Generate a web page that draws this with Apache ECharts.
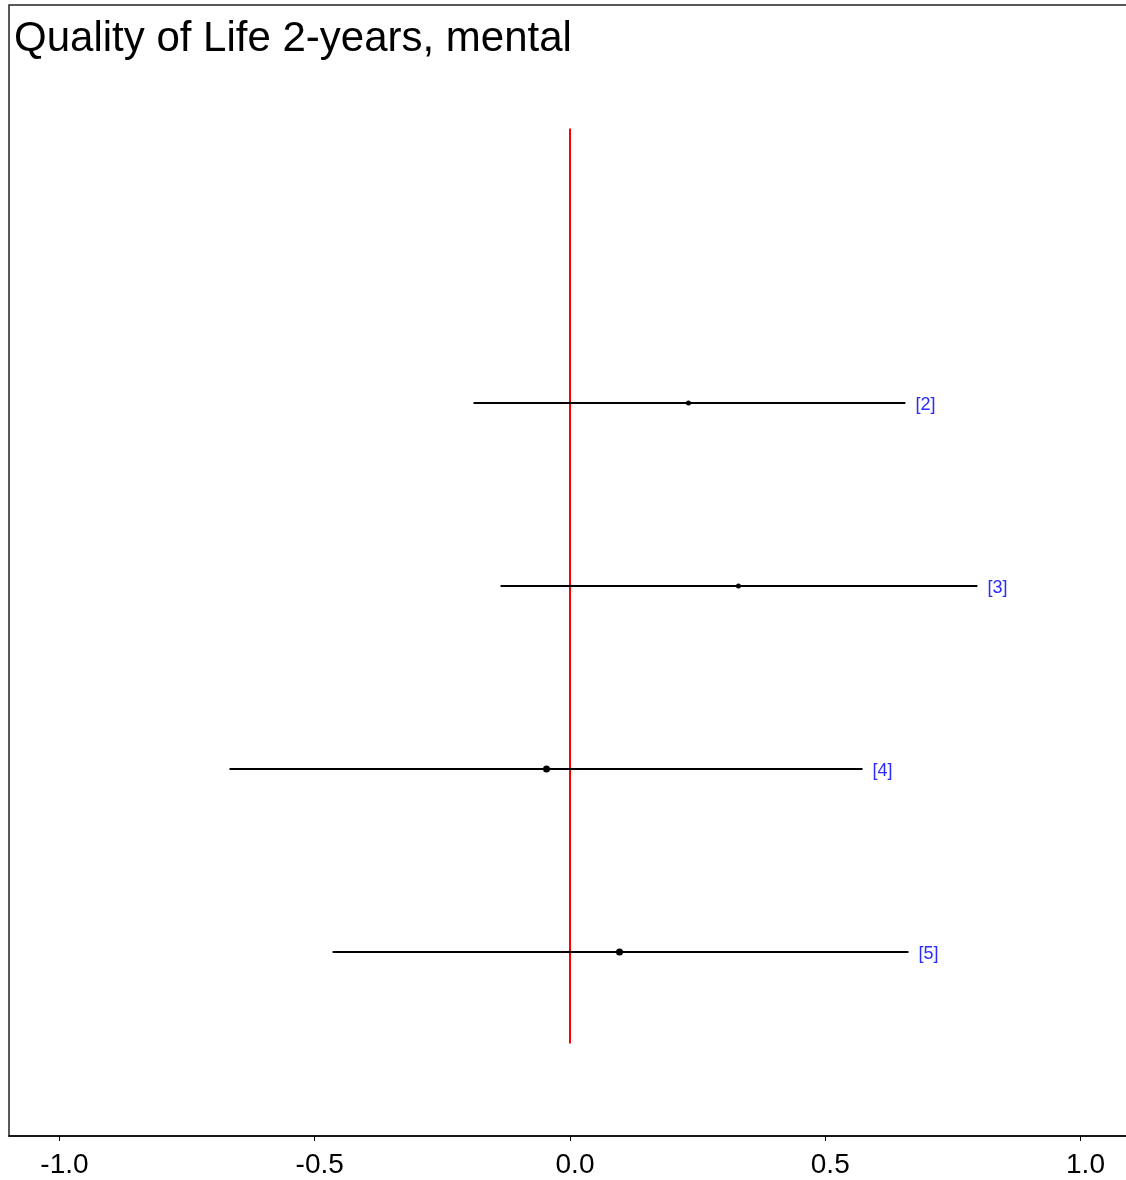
<!DOCTYPE html>
<html>
<head>
<meta charset="utf-8">
<script src="https://cdn.jsdelivr.net/npm/echarts@6/dist/echarts.min.js"></script>
<style>
html,body{margin:0;padding:0;background:#fff;}
#chart{width:1126px;height:1180px;}
</style>
</head>
<body>
<div id="chart"></div>
<script>
// ---- data ----
const titleText = 'Quality of Life 2-years, mental';
const studyLabels = ['[2]', '[3]', '[4]', '[5]'];
const studyRows = [2, 3, 4, 5];
const estimates = [0.232, 0.330, -0.046, 0.097];
const lowerCI = [-0.189, -0.136, -0.667, -0.465];
const upperCI = [0.657, 0.798, 0.573, 0.663];
const pointSizes = [5, 5, 7, 7];
const xTicks = [-1.0, -0.5, 0.0, 0.5, 1.0];
const refValue = 0;
const refRowSpan = [0.5, 5.5];

const chart = echarts.init(document.getElementById('chart'), null, {renderer: 'canvas'});

const ciData = studyRows.map((r, i) => [lowerCI[i], upperCI[i], estimates[i], r, pointSizes[i], studyLabels[i]]);

const FONT = '"Liberation Sans", Arial, sans-serif';

const option = {
  backgroundColor: '#ffffff',
  animation: false,
  title: {
    text: titleText,
    left: 14,
    top: 18,
    padding: 0,
    textStyle: {fontFamily: FONT, fontSize: 42, fontWeight: 'normal', color: '#000'}
  },
  grid: {
    left: 9, top: 5, right: -5, bottom: 44,
    outerBoundsMode: 'none',
    containLabel: false,
    show: true, borderColor: '#222', borderWidth: 1.5, backgroundColor: 'transparent'
  },
  xAxis: {
    type: 'value',
    min: -1.0989, max: 1.0989,
    splitLine: {show: false},
    axisLine: {show: true, onZero: false, lineStyle: {color: '#000', width: 1.5}},
    axisTick: {show: true, inside: false, length: 5, customValues: xTicks, lineStyle: {color: '#000', width: 1}},
    axisLabel: {
      show: true, customValues: xTicks, margin: 15,
      formatter: v => v.toFixed(1),
      fontFamily: FONT, fontSize: 28, color: '#000', padding: [0, 0, 0, 10]
    }
  },
  yAxis: {
    type: 'value',
    inverse: true,
    min: -0.175, max: 6.005,
    show: false,
    splitLine: {show: false}
  },
  series: [
    {
      type: 'line',
      data: refRowSpan.map(r => [refValue, r]),
      symbol: 'none',
      lineStyle: {color: '#ff0000', width: 2},
      silent: true,
      z: 3
    },
    {
      type: 'custom',
      data: ciData,
      z: 4,
      renderItem: function (params, api) {
        const lo = api.coord([api.value(0), api.value(3)]);
        const hi = api.coord([api.value(1), api.value(3)]);
        const pt = api.coord([api.value(2), api.value(3)]);
        const size = api.value(4);
        const label = ciData[params.dataIndex][5];
        return {
          type: 'group',
          children: [
            {
              type: 'line',
              shape: {x1: lo[0], y1: lo[1], x2: hi[0], y2: hi[1]},
              style: {stroke: '#000', lineWidth: 2}
            },
            {
              type: 'circle',
              shape: {cx: pt[0], cy: pt[1], r: size / 2},
              style: {fill: '#000'}
            },
            {
              type: 'text',
              x: hi[0] + 10, y: hi[1] + 2,
              style: {
                text: label, fill: '#2b2bff',
                font: '18px ' + FONT,
                textAlign: 'left', textVerticalAlign: 'middle'
              }
            }
          ]
        };
      }
    }
  ]
};

chart.setOption(option);
</script>
</body>
</html>
